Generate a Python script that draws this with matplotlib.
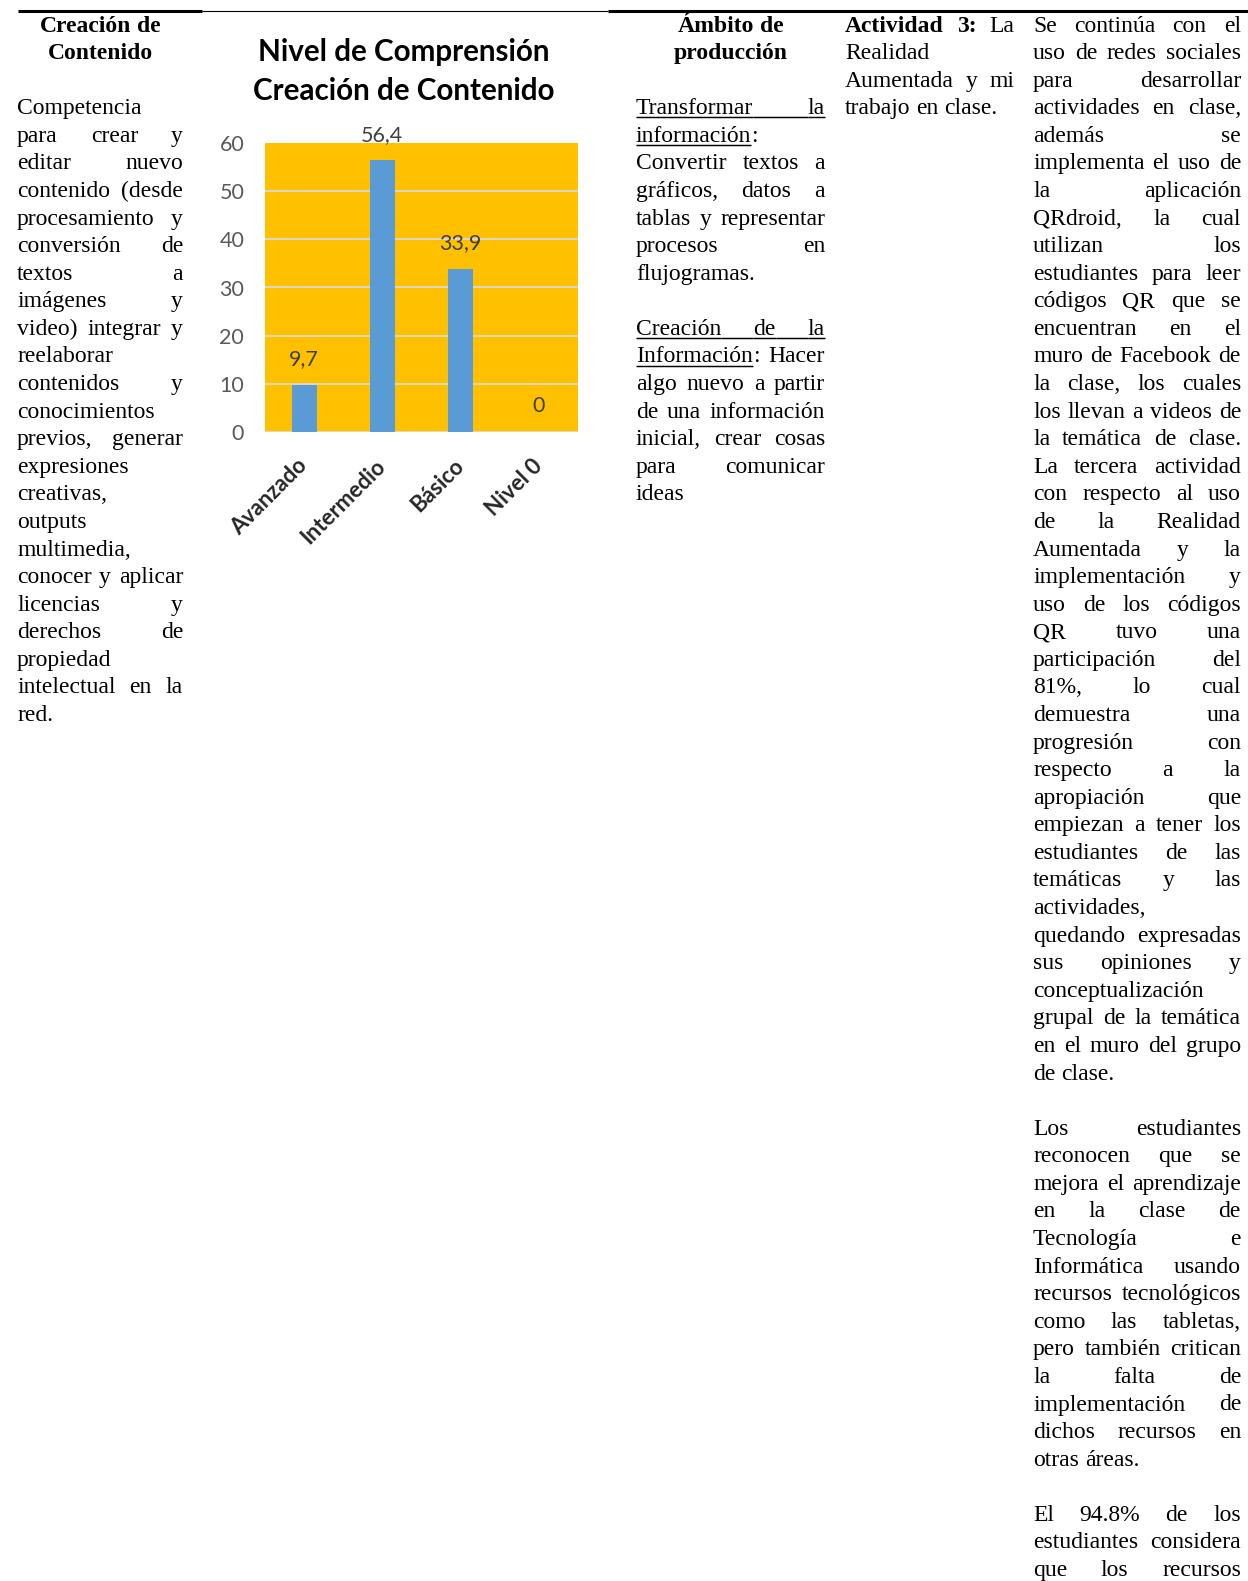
import matplotlib
matplotlib.use("Agg")
import matplotlib.pyplot as plt
import numpy as np

# ---------------- chart data ----------------
chart_title = ["Nivel de Comprensión", "Creación de Contenido"]
levels = ["Avanzado", "Intermedio", "Básico", "Nivel 0"]
percent = [9.7, 56.4, 33.9, 0]
y_ticks = [0, 10, 20, 30, 40, 50, 60]

# ---------------- table text ----------------
# markup: **bold**, __underlined__ ; "" is an empty line
col1_head = ["Creación de", "Contenido"]
col1_body = [
    "Competencia", "para crear y", "editar nuevo", "contenido (desde",
    "procesamiento y", "conversión de", "textos a", "imágenes y",
    "video) integrar y", "reelaborar", "contenidos y", "conocimientos",
    "previos, generar", "expresiones", "creativas,", "outputs",
    "multimedia,", "conocer y aplicar", "licencias y", "derechos de",
    "propiedad", "intelectual en la", "red.",
]
col3_head = ["Ámbito de", "producción"]
col3_body = [
    "__Transformar la__", "__información__:", "Convertir textos a",
    "gráficos, datos a", "tablas y representar", "procesos en",
    "flujogramas.", "",
    "__Creación de la__", "__Información__: Hacer", "algo nuevo a partir",
    "de una información", "inicial, crear cosas", "para comunicar", "ideas",
]
col4_body = [
    "**Actividad 3:** La", "Realidad", "Aumentada y mi", "trabajo en clase.",
]
col5_body = [
    "Se continúa con el", "uso de redes sociales", "para desarrollar",
    "actividades en clase,", "además se", "implementa el uso de",
    "la aplicación", "QRdroid, la cual", "utilizan los",
    "estudiantes para leer", "códigos QR que se", "encuentran en el",
    "muro de Facebook de", "la clase, los cuales", "los llevan a videos de",
    "la temática de clase.", "La tercera actividad", "con respecto al uso",
    "de la Realidad", "Aumentada y la", "implementación y",
    "uso de los códigos", "QR tuvo una", "participación del",
    "81%, lo cual", "demuestra una", "progresión con", "respecto a la",
    "apropiación que", "empiezan a tener los", "estudiantes de las",
    "temáticas y las", "actividades,", "quedando expresadas",
    "sus opiniones y", "conceptualización", "grupal de la temática",
    "en el muro del grupo", "de clase.", "",
    "Los estudiantes", "reconocen que se", "mejora el aprendizaje",
    "en la clase de", "Tecnología e", "Informática usando",
    "recursos tecnológicos", "como las tabletas,", "pero también critican",
    "la falta de", "implementación de", "dichos recursos en",
    "otras áreas.", "",
    "El 94.8% de los", "estudiantes considera", "que los recursos",
]

# ---------------- page layout ----------------
W, H, DPI = 1248, 1581, 100
FS = 17
SERIF = "Liberation Serif"
SANS = "Lato"
BASE0 = 31.5
LEAD = 27.58

fig = plt.figure(figsize=(W / DPI, H / DPI), dpi=DPI)
fig.patch.set_facecolor("white")
page = fig.add_axes([0, 0, 1, 1])
page.set_xlim(0, W)
page.set_ylim(H, 0)
page.axis("off")
renderer = fig.canvas.get_renderer()


def parse(line):
    words, pieces, gaps = [], [], []
    buf, bold, ul = "", False, False
    i = 0
    while i < len(line):
        if line.startswith("**", i) or line.startswith("__", i):
            if buf:
                pieces.append((buf, bold, ul))
                buf = ""
            if line[i] == "*":
                bold = not bold
            else:
                ul = not ul
            i += 2
            continue
        ch = line[i]
        if ch == " ":
            if buf:
                pieces.append((buf, bold, ul))
                buf = ""
            if pieces:
                words.append(pieces)
                pieces = []
                gaps.append(ul)
        else:
            buf += ch
        i += 1
    if buf:
        pieces.append((buf, bold, ul))
    if pieces:
        words.append(pieces)
    return words, gaps


def draw_line(line, x0, x1, row, mode="justify", bold_all=False):
    if not line:
        return
    words, gaps = parse(line)
    y = BASE0 + LEAD * row
    placed, widths = [], []
    for w in words:
        items, ww = [], 0.0
        for txt, b, u in w:
            t = page.text(0, y, txt, fontsize=FS, family=SERIF,
                          weight="bold" if (b or bold_all) else "normal",
                          va="baseline", ha="left", color="black")
            pw = t.get_window_extent(renderer).width
            items.append((t, pw, u))
            ww += pw
        placed.append(items)
        widths.append(ww)
    n = len(words)
    space = FS * DPI / 72 * 0.25
    total = sum(widths)
    if mode == "justify" and n > 1:
        gap = (x1 - x0 - total) / (n - 1)
        x = x0
    elif mode == "center":
        gap = space
        x = (x0 + x1) / 2 - (total + space * (n - 1)) / 2
    else:
        gap = space
        x = x0
    uy = y + 3.2
    for k, items in enumerate(placed):
        for t, pw, u in items:
            t.set_x(x)
            if u:
                page.plot([x, x + pw], [uy, uy], color="black", lw=1.05,
                          solid_capstyle="butt")
            x += pw
        if k < n - 1:
            if gaps[k]:
                page.plot([x, x + gap], [uy, uy], color="black", lw=1.05,
                          solid_capstyle="butt")
            x += gap


def draw_column(lines, x0, x1, first_row, open_end=False):
    for i, line in enumerate(lines):
        last = (i == len(lines) - 1)
        nxt_blank = (not last) and lines[i + 1] == ""
        ends_para = nxt_blank or (last and not open_end)
        draw_line(line, x0, x1, first_row + i,
                  mode="left" if ends_para else "justify")


# top rules of the table
page.plot([18, 202], [10.5, 10.5], color="black", lw=2.2, solid_capstyle="butt")
page.plot([202, 608], [10.5, 10.5], color="black", lw=0.8, solid_capstyle="butt")
page.plot([608, W], [10.5, 10.5], color="black", lw=2.2, solid_capstyle="butt")

# column 1: competence
for i, h in enumerate(col1_head):
    draw_line(h, 17, 183, i, mode="center", bold_all=True)
draw_column(col1_body, 17, 183, 3)

# column 3: production scope
for i, h in enumerate(col3_head):
    draw_line(h, 636, 825, i, mode="center", bold_all=True)
draw_column(col3_body, 636, 825, 3)

# column 4: activity
draw_column(col4_body, 845, 1014, 0)

# column 5: observations
draw_column(col5_body, 1033, 1241, 0, open_end=True)

# ---------------- chart ----------------
for i, line in enumerate(chart_title):
    page.text(404, 52 + 39.5 * i, line, ha="center", va="center",
              fontsize=21.3, fontweight="bold", family=SANS, color="black")

left, right, top, bottom = 265, 578, 143, 432
ax = fig.add_axes([left / W, 1 - bottom / H, (right - left) / W, (bottom - top) / H])
ax.set_facecolor("#FFC000")
xpos = np.arange(len(levels))
for v in y_ticks[:-1]:
    ax.axhline(v, color="#D9D9D9", lw=1.3, zorder=1)
ax.bar(xpos, percent, width=0.32, color="#5B9BD5", zorder=3)
ax.set_xlim(-0.5, len(levels) - 0.5)
ax.set_ylim(y_ticks[0], y_ticks[-1])
for s in ax.spines.values():
    s.set_visible(False)
ax.set_yticks(y_ticks)
ax.set_yticklabels([str(v) for v in y_ticks], fontsize=15.5, family=SANS,
                   color="#595959")
ax.set_xticks(xpos)
ax.set_xticklabels(levels, rotation=45, ha="right", va="center",
                   rotation_mode="anchor", fontsize=16, fontweight="bold",
                   family=SANS, color="#262626")
ax.tick_params(axis="both", length=0)
ax.tick_params(axis="y", pad=15)
ax.tick_params(axis="x", pad=22)
for xi, v in zip(xpos, percent):
    label = f"{v:g}".replace(".", ",")
    ax.annotate(label, (xi, v), xytext=(0, 18.5), textcoords="offset points",
                ha="center", va="center", fontsize=15.5, family=SANS,
                color="#404040")

fig.savefig("out.png", dpi=DPI, facecolor="white")
